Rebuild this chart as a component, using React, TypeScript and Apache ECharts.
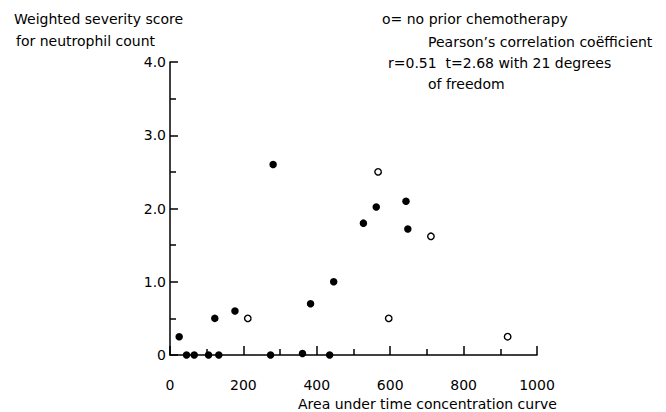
import React, { useEffect, useRef } from "react";
import * as echarts from "echarts";

// Area under time concentration curve (x) vs weighted severity score (y)
const priorChemoX = [25, 45, 66, 105, 133, 122, 177, 274, 281, 361, 383, 435, 446, 527, 562, 643, 648];
const priorChemoY = [0.25, 0, 0, 0, 0, 0.5, 0.6, 0, 2.6, 0.02, 0.7, 0, 1.0, 1.8, 2.02, 2.1, 1.72];
const noPriorX = [212, 567, 596, 711, 920];
const noPriorY = [0.5, 2.5, 0.5, 1.62, 0.25];

const xTicks = { min: 0, max: 1000, interval: 200 };
const yTicks = { min: 0, max: 4, interval: 1 };

const titleLines = ["Weighted severity score", "for neutrophil count"];
const noteLines = [
  "o= no prior chemotherapy",
  "Pearson\u2019s correlation co\u00ebfficient",
  "r=0.51  t=2.68 with 21 degrees",
  "of freedom",
];
const xAxisTitle = "Area under time concentration curve";

const FONT = "DejaVu Sans";

export default function App() {
  const ref = useRef<HTMLDivElement>(null);
  useEffect(() => {
    if (!ref.current) return;
    const chart = echarts.init(ref.current, undefined, { renderer: "svg" });
    const txt = (text: string, x: number, y: number) => ({
      type: "text",
      x,
      y,
      style: {
        text,
        fill: "#000",
        font: `14px "${FONT}"`,
        textVerticalAlign: "middle",
        verticalAlign: "middle",
      },
    });
    const axisCommon = {
      type: "value",
      axisLine: { show: true, lineStyle: { color: "#000", width: 1.5 } },
      axisTick: { show: true, inside: true, lineStyle: { color: "#000", width: 1.5 } },
      minorTick: { show: true, splitNumber: 2, lineStyle: { color: "#000", width: 1.5 } },
      splitLine: { show: false },
      minorSplitLine: { show: false },
    };
    chart.setOption({
      animation: false,
      backgroundColor: "#fff",
      grid: { left: 170, top: 62, width: 367, height: 293 },
      xAxis: {
        ...axisCommon,
        min: xTicks.min,
        max: xTicks.max,
        interval: xTicks.interval,
        position: "bottom",
        offset: 19,
        axisTick: { ...axisCommon.axisTick, length: 9 },
        minorTick: { ...axisCommon.minorTick, length: 6 },
        axisLabel: {
          margin: 4,
          fontSize: 14,
          fontFamily: FONT,
          color: "#000",
          hideOverlap: false,
          showMinLabel: true,
          showMaxLabel: true,
          formatter: (v: number) => String(v),
        },
      },
      yAxis: {
        ...axisCommon,
        min: yTicks.min,
        max: yTicks.max,
        interval: yTicks.interval,
        axisTick: { ...axisCommon.axisTick, length: 8 },
        minorTick: { ...axisCommon.minorTick, length: 6 },
        axisLabel: {
          margin: 4,
          fontSize: 14,
          fontFamily: FONT,
          color: "#000",
          formatter: (v: number) => (v === 0 ? "0" : v.toFixed(1)),
        },
      },
      series: [
        {
          type: "scatter",
          data: priorChemoX.map((x, i) => [x, priorChemoY[i]]),
          symbol: "circle",
          symbolSize: 7.5,
          itemStyle: { color: "#000", opacity: 1 },
          clip: false,
        },
        {
          type: "scatter",
          data: noPriorX.map((x, i) => [x, noPriorY[i]]),
          symbol: "circle",
          symbolSize: 6.5,
          itemStyle: { color: "#fff", borderColor: "#000", borderWidth: 1.4, opacity: 1 },
          clip: false,
        },
      ],
      graphic: [
        txt(titleLines[0], 14, 19),
        txt(titleLines[1], 16, 40.5),
        txt(noteLines[0], 382, 19),
        txt(noteLines[1], 428, 42),
        txt(noteLines[2], 388, 63),
        txt(noteLines[3], 428, 84),
        txt(xAxisTitle, 298, 404),
      ],
    });
    return () => chart.dispose();
  }, []);
  return (
    <div
      ref={ref}
      style={{ position: "fixed", left: 0, top: 0, width: 666, height: 412 }}
    />
  );
}
